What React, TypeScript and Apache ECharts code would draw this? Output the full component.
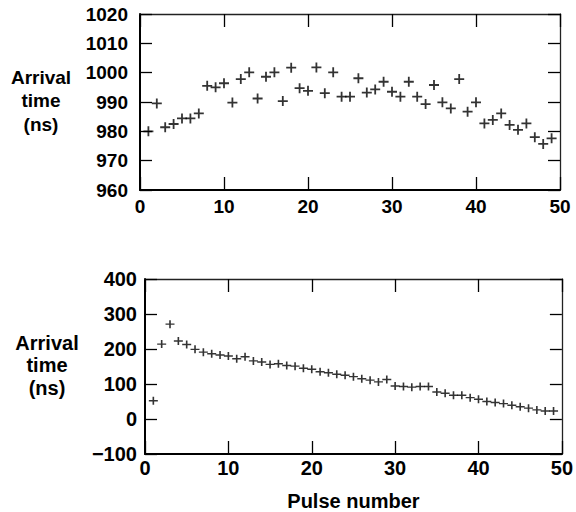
import React, { useEffect, useRef } from "react";
import * as echarts from "echarts";

const pulseNumbers: number[] = Array.from({ length: 49 }, (_, i) => i + 1);

const topArrival: number[] = [
  980, 989.5, 981.4, 982.5, 984.4, 984.4, 986.1, 995.5, 995, 996.4,
  989.8, 997.8, 1000.1, 991.2, 998.6, 1000.1, 990.3, 1001.7, 994.7, 993.8,
  1001.8, 993, 1000.1, 991.8, 991.8, 998.1, 993.2, 994.3, 996.9, 993.5,
  991.8, 996.9, 991.8, 989.3, 995.8, 989.9, 987.8, 997.8, 986.7, 989.9,
  982.7, 983.9, 986.1, 982.2, 980.5, 982.7, 978, 975.7, 977.6,
];

const bottomArrival: number[] = [
  52, 214, 271, 223, 213, 199, 191, 186.5, 183, 180,
  172, 178, 166, 163, 156, 158, 153, 151, 145, 142,
  135, 132, 128, 125, 121, 115, 111, 106, 113, 94.5,
  92.6, 91, 92.6, 92.6, 77.4, 73.6, 68, 68, 61, 56.5,
  50, 47, 44, 39.5, 35, 31, 26, 23, 23,
];

const xTicks = { min: 0, max: 50, interval: 10 };
const topYTicks = { min: 960, max: 1020, interval: 10 };
const bottomYTicks = { min: -100, max: 400, interval: 100 };
const yNameLines: string[] = ["Arrival", "time", "(ns)"];
const xName = "Pulse number";

const PLUS =
  "path://M4.1,0H5.9V4.1H10V5.9H5.9V10H4.1V5.9H0V4.1H4.1Z";

const FONT = "'Liberation Sans', Arial, sans-serif";

export default function App() {
  const ref = useRef<HTMLDivElement>(null);

  useEffect(() => {
    if (!ref.current) return;
    const chart = echarts.init(ref.current, undefined, { renderer: "svg" });

    const mainLine = { show: true, onZero: false, lineStyle: { color: "#000", width: 2 } };
    const frameLine = { show: true, onZero: false, lineStyle: { color: "#222", width: 1.3 } };

    const mkX = (gridIndex: number, pos: "bottom" | "top", fontSize: number, margin: number, withName: boolean) => ({
      type: "value",
      gridIndex,
      position: pos,
      ...xTicks,
      axisLine: pos === "bottom" ? mainLine : frameLine,
      axisTick: { show: true, inside: true, length: 13, lineStyle: { color: "#000", width: 1.3 } },
      axisLabel: {
        show: pos === "bottom",
        color: "#000",
        fontSize,
        fontWeight: "bold",
        fontFamily: FONT,
        margin,
      },
      splitLine: { show: false },
      name: withName ? xName : "",
      nameLocation: "middle",
      nameGap: 37,
      nameTextStyle: { color: "#000", fontSize: 20, fontWeight: "bold", fontFamily: FONT },
    });

    const mkY = (gridIndex: number, pos: "left" | "right", ticks: any, fontSize: number, margin: number) => ({
      type: "value",
      gridIndex,
      position: pos,
      ...ticks,
      axisLine: pos === "left" ? mainLine : frameLine,
      axisTick: { show: true, inside: true, length: 12, lineStyle: { color: "#000", width: 1.3 } },
      axisLabel: {
        show: pos === "left",
        color: "#000",
        fontSize,
        fontWeight: "bold",
        fontFamily: FONT,
        margin,
        padding: [5, 0, 0, 0],
        showMinLabel: true,
        showMaxLabel: true,
        formatter: (v: number) => (v < 0 ? "\u2212" + Math.abs(v) : String(v)),
      },
      splitLine: { show: false },
    });

    const nameGraphics = (cx: number, ys: number[], fontSize: number) =>
      yNameLines.map((t, i) => ({
        type: "text",
        x: cx,
        y: ys[i],
        style: {
          text: t,
          fill: "#000",
          font: `bold ${fontSize}px ${FONT}`,
          textAlign: "center",
          textVerticalAlign: "middle",
        },
      }));

    chart.setOption({
      animation: false,
      backgroundColor: "#fff",
      grid: [
        { left: 140, top: 14, width: 420, height: 176 },
        { left: 145, top: 279, width: 420, height: 176 },
      ],
      xAxis: [
        mkX(0, "bottom", 19, 7, false),
        mkX(0, "top", 19, 6, false),
        mkX(1, "bottom", 20, 4, true),
        mkX(1, "top", 20, 3, false),
      ],
      yAxis: [
        mkY(0, "left", topYTicks, 19, 12),
        mkY(0, "right", topYTicks, 19, 12),
        mkY(1, "left", bottomYTicks, 20, 8),
        mkY(1, "right", bottomYTicks, 20, 8),
      ],
      graphic: [
        ...nameGraphics(41, [77, 100, 124], 19),
        ...nameGraphics(47, [343, 365, 388], 20),
      ],
      series: [
        {
          type: "scatter",
          xAxisIndex: 0,
          yAxisIndex: 0,
          data: pulseNumbers.map((p, i) => [p, topArrival[i]]),
          symbol: PLUS,
          symbolSize: [10, 10],
          itemStyle: { color: "#000" },
        },
        {
          type: "scatter",
          xAxisIndex: 2,
          yAxisIndex: 2,
          data: pulseNumbers.map((p, i) => [p, bottomArrival[i]]),
          symbol: PLUS,
          symbolSize: [9, 8],
          itemStyle: { color: "#000" },
        },
      ],
    });

    return () => chart.dispose();
  }, []);

  return (
    <div
      ref={ref}
      style={{ position: "absolute", left: 0, top: 0, width: 576, height: 512 }}
    />
  );
}
